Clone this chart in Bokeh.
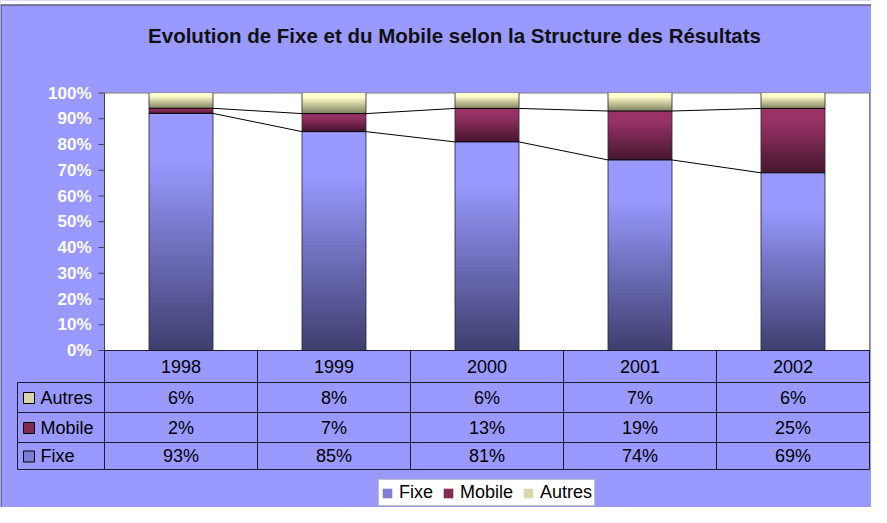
import numpy as np
from bokeh.plotting import figure
from bokeh.models import Range1d, ColumnDataSource, Legend, LegendItem
from bokeh.core.properties import value
from bokeh.embed import file_html
from bokeh.resources import INLINE

# ---------------- data ----------------
title_text = "Evolution de Fixe et du Mobile selon la Structure des Résultats"
years = ["1998", "1999", "2000", "2001", "2002"]
series_names = ["Fixe", "Mobile", "Autres"]
fixe = [93, 85, 81, 74, 69]
mobile = [2, 7, 13, 19, 25]
autres = [6, 8, 6, 7, 6]
y_ticks = [0, 10, 20, 30, 40, 50, 60, 70, 80, 90, 100]
y_tick_labels = ["0%", "10%", "20%", "30%", "40%", "50%", "60%", "70%", "80%", "90%", "100%"]
table_rows = ["Autres", "Mobile", "Fixe"]

# ---------------- style ----------------
BG = "#9999FF"
FONT = value("Liberation Sans")
light = {"Fixe": (153, 153, 255), "Mobile": (153, 51, 102), "Autres": (255, 255, 204)}
dark = {"Fixe": (62, 62, 110), "Mobile": (70, 22, 46), "Autres": (128, 128, 96)}

def mix(s, f):
    g = min(1.0, f / 0.8)
    a, b = dark[s], light[s]
    return "#%02x%02x%02x" % tuple(int(round(a[j] + (b[j] - a[j]) * g)) for j in range(3))

# ---------------- layout (figure pixels) ----------------
W, H = 871, 507
PL, PR, PT, PB = 104.0, 869.0, 92.5, 350.0
ncat = len(years)
SX = (PR - PL) / ncat
SY = (PB - PT)

def X(fx):
    return (fx - PL) / SX

def Y(fy):
    return (PB - fy) / SY

p = figure(width=W, height=H, x_range=Range1d(X(0), X(W)), y_range=Range1d(Y(H), Y(0)),
           x_axis_type=None, y_axis_type=None, toolbar_location=None,
           output_backend="svg", min_border=0, background_fill_color=BG,
           border_fill_color=BG, outline_line_color=None)

# outer chart frame
p.quad(left=[X(0)], right=[X(W)], top=[Y(0)], bottom=[Y(4)], fill_color="white", line_color=None)
p.segment(x0=[X(0), X(0.5)], y0=[Y(4.5), Y(4.5)], x1=[X(W), X(0.5)], y1=[Y(4.5), Y(H)],
          line_color="#404040", line_width=1)

# title
p.text(x=[X(454)], y=[Y(34.5)], text=[title_text], text_font=FONT, text_font_size="20.5px",
       text_font_style="bold", text_color="#111111", text_align="center", text_baseline="middle")

# plot area
p.quad(left=[0], right=[ncat], bottom=[0], top=[1], fill_color="white", line_color="#808080")

# stacked 100% bars with vertical gradient
vals = {"Fixe": fixe, "Mobile": mobile, "Autres": autres}
totals = [fixe[i] + mobile[i] + autres[i] for i in range(ncat)]
bw = 64.0 / SX
N = 40
ovl = 1.2 / SY
bar_renderers = {}
for s in series_names:
    L, R, B, T, C = [], [], [], [], []
    for i in range(ncat):
        base = sum(vals[q][i] for q in series_names[:series_names.index(s)]) / totals[i]
        top = base + vals[s][i] / totals[i]
        for k in range(N):
            L.append(i + 0.5 - bw / 2)
            R.append(i + 0.5 + bw / 2)
            B.append(base + (top - base) * k / N)
            T.append(min(top, base + (top - base) * (k + 1) / N + ovl))
            C.append(mix(s, (k + 0.5) / N))
    src = ColumnDataSource(dict(left=L, right=R, bottom=B, top=T, color=C))
    bar_renderers[s] = p.quad(left="left", right="right", bottom="bottom", top="top", source=src,
                              fill_color="color", line_color=None)

# bar edges
edges_x = []
for i in range(ncat):
    edges_x += [i + 0.5 - bw / 2, i + 0.5 + bw / 2]
p.segment(x0=edges_x, y0=[0] * len(edges_x), x1=edges_x, y1=[1] * len(edges_x),
          line_color="#2a2a3a", line_width=1, line_alpha=0.85)

# series lines
for upto in (1, 2):
    xs, ys = [], []
    for i in range(ncat):
        lvl = sum(vals[q][i] for q in series_names[:upto]) / totals[i]
        xs += [i + 0.5 - bw / 2, i + 0.5 + bw / 2]
        ys += [lvl, lvl]
    p.line(xs, ys, line_color="black", line_width=1)

# y axis
tv = [t / 100 for t in y_ticks]
p.segment(x0=[0], y0=[0], x1=[0], y1=[1], line_color="#404050", line_width=1)
p.segment(x0=[X(PL - 6)] * len(tv), y0=tv, x1=[0] * len(tv), y1=tv, line_color="#404050", line_width=1)
p.text(x=[X(PL - 13)] * len(tv), y=tv, text=y_tick_labels, text_font=FONT, text_font_size="17px",
       text_font_style="bold", text_color="white", text_align="right", text_baseline="middle")

# data table
rows_fy = [350, 382, 412, 442, 469]
LC = 17.0
hx0 = [0] + [X(LC)] * 4
hx1 = [ncat] * 5
hy = [Y(v) for v in rows_fy]
p.segment(x0=hx0, y0=hy, x1=hx1, y1=hy, line_color="#1c1c30", line_width=1)
vx = list(range(ncat + 1)) + [X(LC)]
vy0 = [Y(rows_fy[0])] * (ncat + 1) + [Y(rows_fy[1])]
vy1 = [Y(rows_fy[-1])] * (ncat + 2)
p.segment(x0=vx, y0=vy0, x1=vx, y1=vy1, line_color="#1c1c30", line_width=1)

p.text(x=[i + 0.5 for i in range(ncat)], y=[Y((rows_fy[0] + rows_fy[1]) / 2)] * ncat, text=years,
       text_font=FONT, text_font_size="18px", text_color="black", text_align="center",
       text_baseline="middle")
for r, name in enumerate(table_rows):
    cy = (rows_fy[r + 1] + rows_fy[r + 2]) / 2
    p.text(x=[i + 0.5 for i in range(ncat)], y=[Y(cy)] * ncat, text=["%d%%" % v for v in vals[name]],
           text_font=FONT, text_font_size="18px", text_color="black", text_align="center",
           text_baseline="middle")
    p.quad(left=[X(23)], right=[X(34)], top=[Y(cy - 5)], bottom=[Y(cy + 6)],
           fill_color=mix(name, 0.55), line_color="black", line_width=1)
    p.text(x=[X(40)], y=[Y(cy)], text=[name], text_font=FONT, text_font_size="18px",
           text_color="black", text_align="left", text_baseline="middle")

# legend (swatch = a mid-height slice of each series)
items = [LegendItem(label=s, renderers=[bar_renderers[s]], index=int(N * 0.55)) for s in series_names]
legend = Legend(items=items, orientation="horizontal", location=(378, 1),
                background_fill_color="white", background_fill_alpha=1.0,
                border_line_color="#808080", border_line_width=1,
                label_text_font="Liberation Sans", label_text_font_size="18px",
                label_text_color="black", glyph_width=12, glyph_height=12, label_height=18,
                label_standoff=6, spacing=9, padding=2, margin=0)
p.add_layout(legend)

open("out.html", "w").write(file_html(p, INLINE))
